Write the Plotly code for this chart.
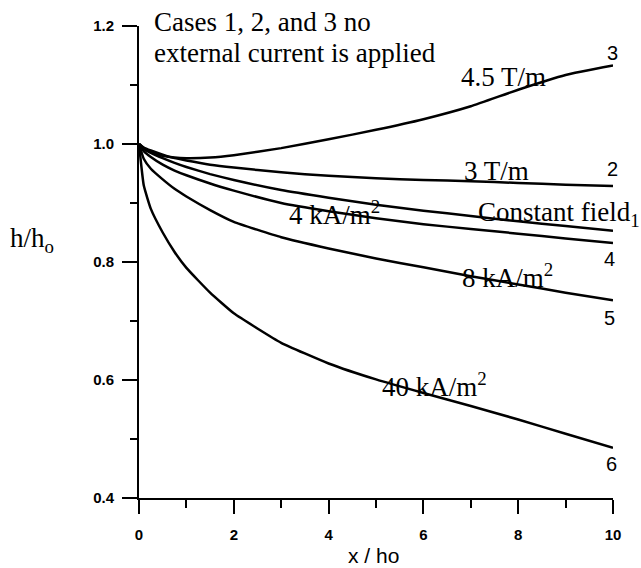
import plotly.graph_objects as go

# x / ho sample positions
x_ho = [0, 0.1, 0.25, 0.5, 0.75, 1, 1.5, 2, 3, 4, 5, 6, 7, 8, 9, 10]

# h/ho for each case
case3_45Tm = [1.0, 0.993, 0.986, 0.980, 0.977, 0.976, 0.977, 0.981, 0.993, 1.008, 1.024, 1.042, 1.064, 1.092, 1.117, 1.133]
case2_3Tm = [1.0, 0.994, 0.989, 0.982, 0.976, 0.972, 0.965, 0.960, 0.952, 0.946, 0.942, 0.939, 0.937, 0.934, 0.931, 0.929]
case1_const = [1.0, 0.992, 0.985, 0.976, 0.968, 0.961, 0.949, 0.939, 0.922, 0.909, 0.897, 0.887, 0.878, 0.869, 0.861, 0.853]
case4_4kA = [1.0, 0.988, 0.978, 0.965, 0.955, 0.947, 0.933, 0.921, 0.900, 0.886, 0.874, 0.864, 0.856, 0.848, 0.840, 0.832]
case5_8kA = [1.0, 0.975, 0.958, 0.940, 0.924, 0.911, 0.888, 0.868, 0.842, 0.823, 0.806, 0.791, 0.776, 0.762, 0.748, 0.735]
case6_40kA = [1.0, 0.930, 0.890, 0.850, 0.817, 0.790, 0.748, 0.713, 0.663, 0.628, 0.601, 0.578, 0.556, 0.533, 0.509, 0.485]

series = [case3_45Tm, case2_3Tm, case1_const, case4_4kA, case5_8kA, case6_40kA]

x_ticks = [0, 2, 4, 6, 8, 10]
y_ticks = [0.4, 0.6, 0.8, 1.0, 1.2]

SERIF = "Liberation Serif, Times New Roman, serif"
SANS = "Liberation Sans, Arial, sans-serif"

fig = go.Figure()
for ys in series:
    fig.add_trace(go.Scatter(x=x_ho, y=ys, mode="lines",
                             line=dict(color="black", width=2.5, shape="spline", smoothing=0.4),
                             hoverinfo="skip"))

axis_common = dict(showline=True, linewidth=2, linecolor="black", ticks="outside",
                   tickwidth=2, tickcolor="black", showgrid=False, zeroline=False,
                   tickfont=dict(family=SANS, size=15, color="black", weight="bold"))

fig.update_xaxes(range=[0, 10], tickvals=x_ticks, ticklen=14, ticklabelstandoff=8,
                 minor=dict(dtick=1, ticks="outside", ticklen=8, tickwidth=2, tickcolor="black"),
                 **axis_common)
fig.update_yaxes(range=[0.4, 1.2], tickvals=y_ticks, tickformat=".1f", ticklen=15,
                 ticklabelstandoff=5,
                 minor=dict(dtick=0.1, ticks="outside", ticklen=7, tickwidth=2, tickcolor="black"),
                 **axis_common)

ann = []
def txt(text, x, y, size, family=SERIF, xanchor="left", xref="x", yref="y"):
    ann.append(dict(text=text, x=x, y=y, xref=xref, yref=yref, showarrow=False,
                    xanchor=xanchor, yanchor="middle",
                    font=dict(family=family, size=size, color="black")))

txt("Cases 1, 2, and 3 no", 0.028, 1.0085, 27, xref="paper", yref="paper")
txt("external current is applied", 0.028, 0.943, 27, xref="paper", yref="paper")
txt("4.5 T/m", 6.75, 1.114, 27)
txt("3 T/m", 6.81, 0.954, 27)
txt("Constant field<sub>1</sub>", 7.1, 0.882, 27)
txt("4 kA/m<sup>2</sup>", 3.12, 0.883, 27)
txt("8 kA/m<sup>2</sup>", 6.77, 0.776, 27)
txt("40 kA/m<sup>2</sup>", 5.08, 0.592, 27)
for lab, xx, yy in [("3", 9.98, 1.154), ("2", 9.98, 0.958), ("4", 9.92, 0.805),
                    ("5", 9.92, 0.705), ("6", 9.96, 0.458)]:
    txt(lab, xx, yy, 20, family=SANS, xanchor="center")
txt("h/h<sub>o</sub>", -0.226, 0.547, 27, xanchor="center", xref="paper", yref="paper")
txt("x / ho", 0.494, -0.121, 21, family=SANS, xanchor="center", xref="paper", yref="paper")

fig.update_layout(width=641, height=568, margin=dict(l=139, r=28, t=26, b=70),
                  plot_bgcolor="white", paper_bgcolor="white", showlegend=False,
                  annotations=ann)

fig.write_html("out.html")
